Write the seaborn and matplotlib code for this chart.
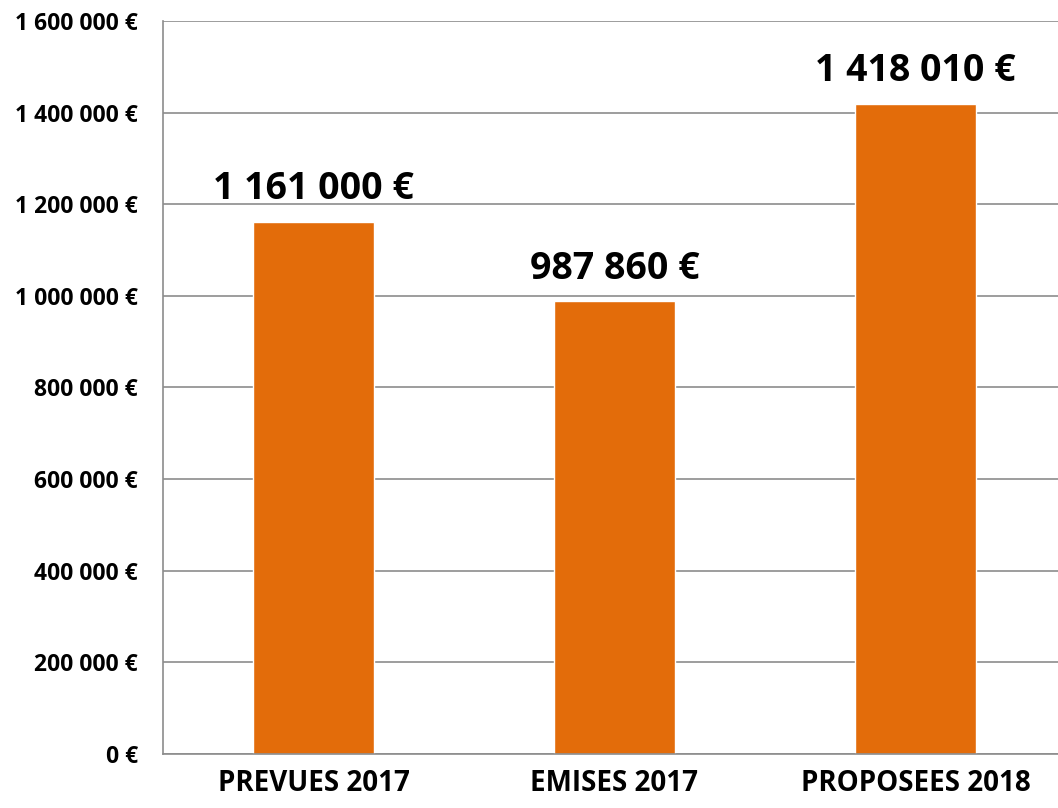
import pandas as pd
import matplotlib.pyplot as plt
import seaborn as sns

# === DONNEES ===
categories = ["PREVUES 2017", "EMISES 2017", "PROPOSEES 2018"]
montants = [1161000, 987860, 1418010]
etiquettes = ["1 161 000 €", "987 860 €", "1 418 010 €"]

df = pd.DataFrame({"categorie": categories, "montant": montants})

# === CONFIGURATION ===
sns.set_theme(style="white")
plt.rcParams["font.family"] = ["Open Sans", "DejaVu Sans"]
plt.rcParams["font.weight"] = "bold"
plt.rcParams["text.color"] = "black"
plt.rcParams["xtick.color"] = "black"
plt.rcParams["ytick.color"] = "black"

fig = plt.figure(figsize=(10.58, 8.08), dpi=100)
ax = fig.add_axes([163 / 1058, 54 / 808, 903 / 1058, 733 / 808])

sns.barplot(data=df, x="categorie", y="montant", color="#E36C0A",
            saturation=1, width=0.4, ax=ax)

ax.set_xlim(-0.5, 2.5)
ax.set_ylim(0, 1600000)
ax.set_yticks(range(0, 1600001, 200000))
ax.set_yticklabels([f"{v:,}".replace(",", " ") + " €" for v in range(0, 1600001, 200000)],
                   fontsize=16.5, fontweight="bold", color="black")
ax.yaxis.grid(True, color="#8c8c8c", linewidth=1.2)
ax.set_axisbelow(True)

# ticks de l'axe x aux limites des categories
ax.set_xticks([-0.5, 0.5, 1.5, 2.5])
ax.set_xticklabels([])
ax.set_xticks([0, 1, 2], minor=True)
ax.set_xticklabels(categories, minor=True, fontsize=20, fontweight="bold", color="black")
ax.tick_params(axis="x", which="minor", length=0, pad=11)
ax.tick_params(axis="x", which="major", length=7, width=1.2, color="#8c8c8c", direction="out")
ax.tick_params(axis="y", length=6, width=1.2, color="#8c8c8c", direction="out", pad=12)
ax.set_xlabel("")
ax.set_ylabel("")

for s in ["top", "right"]:
    ax.spines[s].set_visible(False)
for s in ["left", "bottom"]:
    ax.spines[s].set_color("#8c8c8c")
    ax.spines[s].set_linewidth(1.2)

for i, (v, txt) in enumerate(zip(montants, etiquettes)):
    ax.annotate(txt, (i, v), xytext=(0, 10), textcoords="offset points",
                ha="center", va="bottom", fontsize=27, fontweight="bold", color="black")

plt.savefig("out.png", dpi=100)
